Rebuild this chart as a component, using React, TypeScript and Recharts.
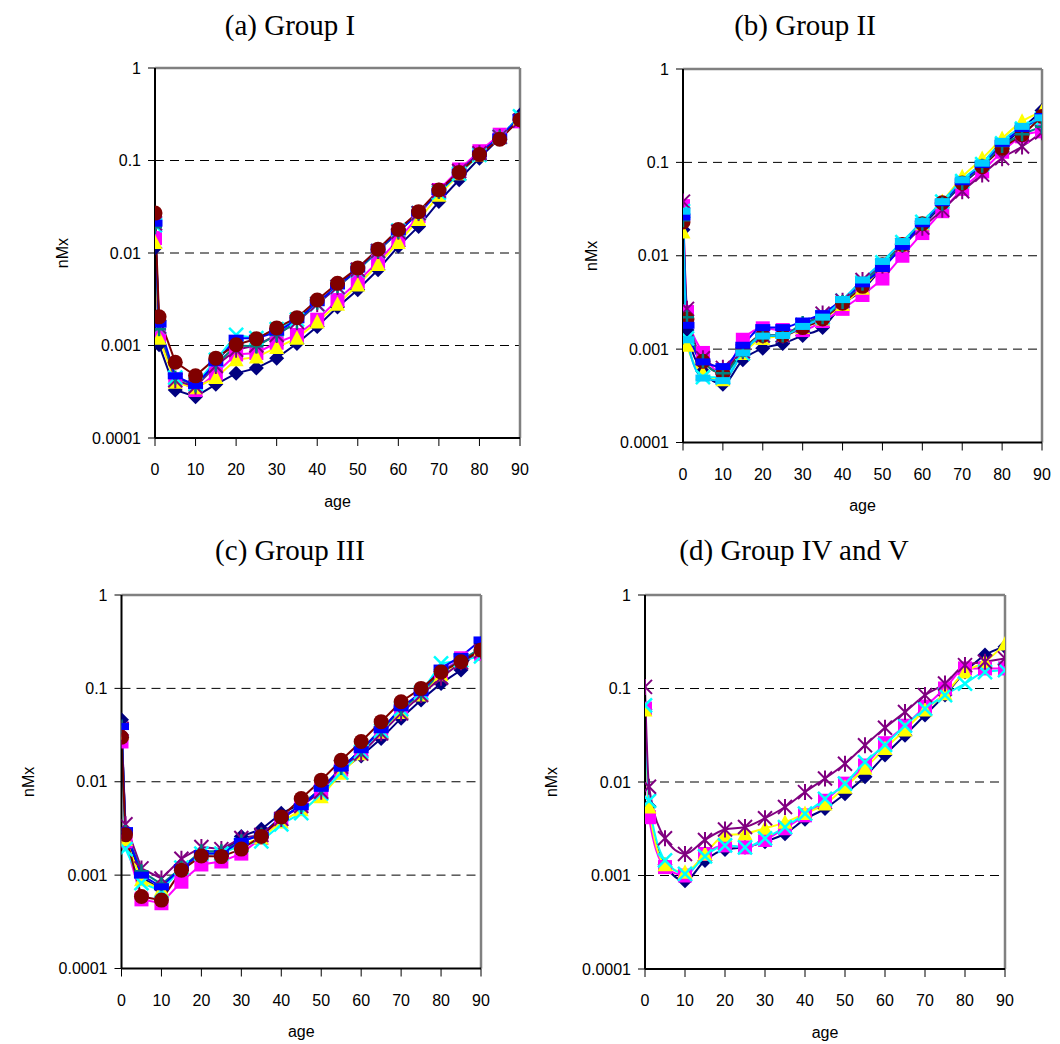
import React from 'react';
import { LineChart, Line, XAxis, YAxis, ReferenceLine } from 'recharts';

const ages = [0, 1, 5, 10, 15, 20, 25, 30, 35, 40, 45, 50, 55, 60, 65, 70, 75, 80, 85, 90];
const ageTicks = [0, 10, 20, 30, 40, 50, 60, 70, 80, 90];
const rateTicks = [0.0001, 0.001, 0.01, 0.1, 1];
const gridValues = [0.1, 0.01, 0.001];

// (a) Group I
const aNavy = [0.0113, 0.00102, 0.00033, 0.00028, 0.00038, 0.0005, 0.00057, 0.00073, 0.00105, 0.0016, 0.0026, 0.004, 0.0066, 0.0118, 0.0194, 0.036, 0.062, 0.106, 0.175, 0.31];
const aMagenta = [0.0145, 0.0013, 0.00043, 0.00033, 0.0005, 0.0008, 0.00083, 0.00107, 0.0013, 0.0019, 0.0031, 0.0049, 0.0081, 0.0139, 0.025, 0.048, 0.08, 0.126, 0.19, 0.265];
const aYellow = [0.013, 0.0012, 0.0004, 0.00035, 0.00045, 0.0007, 0.00075, 0.00095, 0.0012, 0.0018, 0.0028, 0.0045, 0.0075, 0.013, 0.023, 0.042, 0.072, 0.115, 0.18, 0.28];
const aCyan = [0.02, 0.0016, 0.00045, 0.00038, 0.0007, 0.0013, 0.0012, 0.0015, 0.0019, 0.0028, 0.0043, 0.0065, 0.0105, 0.0175, 0.027, 0.045, 0.072, 0.115, 0.18, 0.3];
const aPurple = [0.021, 0.0016, 0.00042, 0.00036, 0.0006, 0.0009, 0.001, 0.0013, 0.0018, 0.0028, 0.0043, 0.0066, 0.0105, 0.017, 0.027, 0.047, 0.077, 0.12, 0.18, 0.27];
const aTeal = [0.019, 0.0015, 0.00045, 0.00037, 0.00062, 0.001, 0.00098, 0.0013, 0.0018, 0.0029, 0.0044, 0.0066, 0.0105, 0.017, 0.027, 0.046, 0.074, 0.118, 0.178, 0.28];
const aBlue = [0.021, 0.0017, 0.00047, 0.00037, 0.00065, 0.0012, 0.0012, 0.0014, 0.0019, 0.0029, 0.0044, 0.0067, 0.011, 0.017, 0.027, 0.046, 0.075, 0.118, 0.18, 0.29];
const aMaroon = [0.027, 0.00204, 0.00066, 0.00047, 0.00073, 0.00102, 0.00118, 0.00155, 0.002, 0.0031, 0.0047, 0.0069, 0.011, 0.018, 0.028, 0.048, 0.074, 0.116, 0.17, 0.276];

// (b) Group II
const bNavy = [0.019, 0.0016, 0.00058, 0.00042, 0.00077, 0.00102, 0.00115, 0.0014, 0.0017, 0.003, 0.0043, 0.0075, 0.0125, 0.021, 0.035, 0.058, 0.09, 0.15, 0.23, 0.36];
const bMagenta = [0.034, 0.0025, 0.00091, 0.00055, 0.00126, 0.00167, 0.0016, 0.0016, 0.002, 0.0027, 0.0038, 0.0057, 0.01, 0.0175, 0.03, 0.052, 0.08, 0.13, 0.19, 0.215];
const bYellow = [0.018, 0.0011, 0.00055, 0.00047, 0.0009, 0.0013, 0.0014, 0.0017, 0.0021, 0.003, 0.0045, 0.0078, 0.013, 0.022, 0.038, 0.07, 0.11, 0.18, 0.275, 0.35];
const bCyan = [0.03, 0.0013, 0.0005, 0.0005, 0.0009, 0.0014, 0.0014, 0.0018, 0.0022, 0.0033, 0.0052, 0.0085, 0.014, 0.023, 0.038, 0.063, 0.096, 0.16, 0.23, 0.29];
const bPurple = [0.038, 0.0027, 0.0008, 0.00063, 0.00095, 0.0014, 0.0014, 0.0018, 0.0024, 0.0033, 0.0055, 0.0078, 0.013, 0.02, 0.031, 0.049, 0.074, 0.111, 0.148, 0.21];
const bMaroon = [0.023, 0.0021, 0.00074, 0.00055, 0.00099, 0.0014, 0.0014, 0.0017, 0.0021, 0.0031, 0.0047, 0.008, 0.0132, 0.022, 0.037, 0.06, 0.09, 0.142, 0.198, 0.31];
const bTeal = [0.024, 0.0022, 0.00075, 0.00055, 0.00095, 0.0014, 0.0014, 0.0019, 0.0022, 0.0032, 0.005, 0.008, 0.013, 0.022, 0.036, 0.06, 0.092, 0.15, 0.2, 0.24];
const bBlue = [0.026, 0.0018, 0.00073, 0.00065, 0.0011, 0.0017, 0.0017, 0.002, 0.0024, 0.0034, 0.005, 0.0073, 0.0126, 0.022, 0.037, 0.062, 0.095, 0.16, 0.23, 0.31];
const bSky = [0.03, 0.00126, 0.00049, 0.00046, 0.00091, 0.00138, 0.0014, 0.00175, 0.0022, 0.0034, 0.0055, 0.0087, 0.0142, 0.0234, 0.038, 0.065, 0.098, 0.168, 0.243, 0.3];

// (c) Group III
const cNavy = [0.046, 0.0028, 0.00095, 0.0007, 0.0012, 0.0017, 0.0017, 0.0026, 0.0031, 0.0046, 0.0058, 0.0082, 0.0133, 0.0189, 0.029, 0.048, 0.075, 0.113, 0.157, 0.3];
const cMagenta = [0.027, 0.0023, 0.00055, 0.0005, 0.00085, 0.0013, 0.0014, 0.0017, 0.0025, 0.004, 0.0057, 0.0082, 0.0135, 0.021, 0.034, 0.058, 0.09, 0.15, 0.21, 0.235];
const cYellow = [0.033, 0.0024, 0.00089, 0.0007, 0.0012, 0.0017, 0.0017, 0.0021, 0.0025, 0.0037, 0.005, 0.0069, 0.0123, 0.02, 0.034, 0.055, 0.085, 0.14, 0.2, 0.26];
const cCyan = [0.035, 0.0019, 0.00082, 0.00068, 0.0012, 0.0017, 0.0017, 0.0021, 0.0023, 0.0035, 0.0046, 0.0075, 0.0125, 0.021, 0.035, 0.06, 0.09, 0.185, 0.2, 0.22];
const cPurple = [0.037, 0.0035, 0.00118, 0.00092, 0.0015, 0.002, 0.0019, 0.0025, 0.0027, 0.004, 0.0055, 0.0078, 0.0145, 0.02, 0.033, 0.054, 0.085, 0.13, 0.19, 0.25];
const cTeal = [0.039, 0.0029, 0.0011, 0.0008, 0.0012, 0.0018, 0.0018, 0.0023, 0.0027, 0.0041, 0.0056, 0.0085, 0.014, 0.022, 0.036, 0.06, 0.088, 0.15, 0.2, 0.27];
const cBlue = [0.039, 0.003, 0.001, 0.00075, 0.0012, 0.0017, 0.0017, 0.0023, 0.0027, 0.0042, 0.0054, 0.0085, 0.014, 0.022, 0.036, 0.062, 0.09, 0.165, 0.22, 0.33];
const cMaroon = [0.03, 0.0027, 0.00059, 0.00054, 0.00113, 0.0016, 0.00158, 0.0019, 0.0026, 0.0042, 0.0066, 0.0104, 0.017, 0.027, 0.044, 0.072, 0.1, 0.15, 0.193, 0.257];

// (d) Group IV and V
const dNavy = [0.06, 0.0055, 0.0013, 0.00088, 0.00145, 0.0019, 0.002, 0.0023, 0.0028, 0.004, 0.0052, 0.0075, 0.0114, 0.0194, 0.0316, 0.052, 0.085, 0.15, 0.228, 0.28];
const dMagenta = [0.061, 0.0042, 0.00123, 0.001, 0.0017, 0.0021, 0.002, 0.0024, 0.0032, 0.0044, 0.0063, 0.0096, 0.015, 0.026, 0.04, 0.064, 0.1, 0.164, 0.164, 0.164];
const dYellow = [0.059, 0.0054, 0.0013, 0.00108, 0.0017, 0.0027, 0.0028, 0.0032, 0.0037, 0.0046, 0.0058, 0.0088, 0.014, 0.0228, 0.036, 0.059, 0.088, 0.15, 0.193, 0.3];
const dCyan = [0.066, 0.0063, 0.00145, 0.00104, 0.0016, 0.0021, 0.002, 0.0025, 0.0033, 0.0046, 0.0066, 0.0096, 0.0163, 0.025, 0.04, 0.061, 0.085, 0.113, 0.15, 0.157];
const dPurple = [0.104, 0.0089, 0.0025, 0.0017, 0.0024, 0.0031, 0.0033, 0.0041, 0.0054, 0.0078, 0.0109, 0.0157, 0.0247, 0.038, 0.056, 0.085, 0.113, 0.178, 0.193, 0.21];

type Shape = 'diamond' | 'square' | 'triangle' | 'x' | 'star' | 'circle' | 'plus' | 'bar';
interface SeriesDef { key: string; color: string; shape: Shape; values: number[] }

const NAVY = '#000080', MAGENTA = '#FF00FF', YELLOW = '#FFFF00', CYAN = '#00FFFF';
const PURPLE = '#800080', MAROON = '#800000', TEAL = '#008080', BLUE = '#0000FF', SKY = '#00CCFF';

const seriesA: SeriesDef[] = [
  { key: 's1', color: NAVY, shape: 'diamond', values: aNavy },
  { key: 's2', color: MAGENTA, shape: 'square', values: aMagenta },
  { key: 's3', color: YELLOW, shape: 'triangle', values: aYellow },
  { key: 's4', color: CYAN, shape: 'x', values: aCyan },
  { key: 's5', color: PURPLE, shape: 'star', values: aPurple },
  { key: 's7', color: TEAL, shape: 'plus', values: aTeal },
  { key: 's8', color: BLUE, shape: 'bar', values: aBlue },
  { key: 's6', color: MAROON, shape: 'circle', values: aMaroon },
];
const seriesB: SeriesDef[] = [
  { key: 's1', color: NAVY, shape: 'diamond', values: bNavy },
  { key: 's2', color: MAGENTA, shape: 'square', values: bMagenta },
  { key: 's3', color: YELLOW, shape: 'triangle', values: bYellow },
  { key: 's4', color: CYAN, shape: 'x', values: bCyan },
  { key: 's5', color: PURPLE, shape: 'star', values: bPurple },
  { key: 's6', color: MAROON, shape: 'circle', values: bMaroon },
  { key: 's7', color: TEAL, shape: 'plus', values: bTeal },
  { key: 's8', color: BLUE, shape: 'bar', values: bBlue },
  { key: 's9', color: SKY, shape: 'bar', values: bSky },
];
const seriesC: SeriesDef[] = [
  { key: 's1', color: NAVY, shape: 'diamond', values: cNavy },
  { key: 's2', color: MAGENTA, shape: 'square', values: cMagenta },
  { key: 's3', color: YELLOW, shape: 'triangle', values: cYellow },
  { key: 's4', color: CYAN, shape: 'x', values: cCyan },
  { key: 's5', color: PURPLE, shape: 'star', values: cPurple },
  { key: 's7', color: TEAL, shape: 'plus', values: cTeal },
  { key: 's8', color: BLUE, shape: 'bar', values: cBlue },
  { key: 's6', color: MAROON, shape: 'circle', values: cMaroon },
];
const seriesD: SeriesDef[] = [
  { key: 's1', color: NAVY, shape: 'diamond', values: dNavy },
  { key: 's2', color: MAGENTA, shape: 'square', values: dMagenta },
  { key: 's3', color: YELLOW, shape: 'triangle', values: dYellow },
  { key: 's4', color: CYAN, shape: 'x', values: dCyan },
  { key: 's5', color: PURPLE, shape: 'star', values: dPurple },
];

const buildRows = (series: SeriesDef[]) =>
  ages.map((age, i) => {
    const row: Record<string, number> = { age };
    series.forEach((s) => { row[s.key] = s.values[i]; });
    return row;
  });

const makeDot = (shape: Shape, color: string) => (p: any) => {
  const { cx, cy, index } = p;
  if (cx == null || cy == null) return <g key={index} />;
  switch (shape) {
    case 'diamond':
      return <polygon key={index} points={`${cx},${cy - 7.5} ${cx + 7.5},${cy} ${cx},${cy + 7.5} ${cx - 7.5},${cy}`} fill={color} />;
    case 'square':
      return <rect key={index} x={cx - 7} y={cy - 7} width={14} height={14} fill={color} />;
    case 'triangle':
      return <polygon key={index} points={`${cx},${cy - 8} ${cx + 7.5},${cy + 6.5} ${cx - 7.5},${cy + 6.5}`} fill={color} />;
    case 'x':
      return (
        <g key={index} stroke={color} strokeWidth={2.5}>
          <line x1={cx - 7} y1={cy - 7} x2={cx + 7} y2={cy + 7} />
          <line x1={cx - 7} y1={cy + 7} x2={cx + 7} y2={cy - 7} />
        </g>
      );
    case 'star':
      return (
        <g key={index} stroke={color} strokeWidth={2}>
          <line x1={cx - 7} y1={cy - 7} x2={cx + 7} y2={cy + 7} />
          <line x1={cx - 7} y1={cy + 7} x2={cx + 7} y2={cy - 7} />
          <line x1={cx} y1={cy - 8} x2={cx} y2={cy + 8} />
        </g>
      );
    case 'circle':
      return <circle key={index} cx={cx} cy={cy} r={7.5} fill={color} />;
    case 'plus':
      return (
        <g key={index} stroke={color} strokeWidth={2.5}>
          <line x1={cx - 7} y1={cy} x2={cx + 7} y2={cy} />
          <line x1={cx} y1={cy - 7} x2={cx} y2={cy + 7} />
        </g>
      );
    default:
      return <rect key={index} x={cx - 7.5} y={cy - 3.5} width={15} height={7} fill={color} />;
  }
};

const FONT = "'Liberation Sans', Arial, sans-serif";

// both axis titles, drawn in chart coordinates
const AxisTitles = ({ yx, yy, ax, ay }: any) => (
  <g fontFamily={FONT} fontSize={16} fill="#000" textAnchor="middle">
    <text x={yx} y={yy} dominantBaseline="central" transform={`rotate(-90 ${yx} ${yy})`}>nMx</text>
    <text x={ax} y={ay} dominantBaseline="central">age</text>
  </g>
);

const XH = 70;

interface PanelProps {
  title: string;
  titleX: number;
  titleY: number;
  box: [number, number, number, number]; // x, y, w, h on the page
  plot: [number, number, number, number]; // left, right, top, bottom on the page
  series: SeriesDef[];
  curve: 'linear' | 'monotone';
  yLabelX: number;
}

const Panel = ({ title, titleX, titleY, box, plot, series, curve, yLabelX }: PanelProps) => {
  const [bx, by, bw, bh] = box;
  const [pl, pr, pt, pb] = plot;
  const yWidth = pl - bx;
  const margin = { top: pt - by, right: bx + bw - pr, left: 0, bottom: by + bh - pb - XH };
  const rows = buildRows(series);
  const midY = (pt + pb) / 2 - by;
  const midX = (pl + pr) / 2 - bx;
  return (
    <>
      <div
        style={{
          position: 'absolute', left: titleX - 200, top: titleY - 18, width: 400, textAlign: 'center',
          fontFamily: "'Liberation Serif', 'Times New Roman', serif", fontSize: 29, lineHeight: '36px',
        }}
      >
        {title}
      </div>
      <div style={{ position: 'absolute', left: bx, top: by }}>
        <LineChart width={bw} height={bh} data={rows} margin={margin}>
          <XAxis
            dataKey="age"
            type="number"
            domain={[0, 90]}
            ticks={ageTicks}
            allowDataOverflow
            height={XH}
            tickSize={8}
            tickMargin={18}
            stroke="#000"
            axisLine={{ stroke: '#000', strokeWidth: 2 }}
            tick={{ fill: '#000', fontSize: 16, fontFamily: FONT }}
          />
          <YAxis
            type="number"
            scale="log"
            domain={[0.0001, 1]}
            ticks={rateTicks}
            allowDataOverflow
            width={yWidth}
            tickSize={7}
            tickMargin={7}
            tickFormatter={(v: number) => String(v)}
            stroke="#000"
            axisLine={{ stroke: '#000', strokeWidth: 2 }}
            tick={{ fill: '#000', fontSize: 16, fontFamily: FONT }}
            label={<AxisTitles yx={yLabelX - bx} yy={midY} ax={midX} ay={pb - by + 63} />}
          />
          {gridValues.map((g) => (
            <ReferenceLine key={g} y={g} stroke="#000" strokeDasharray="9 6" strokeWidth={1} />
          ))}
          <ReferenceLine y={1} stroke="#808080" strokeWidth={2.5} />
          <ReferenceLine x={90} stroke="#808080" strokeWidth={2.5} />
          {series.map((s) => (
            <Line
              key={s.key}
              dataKey={s.key}
              type={curve}
              stroke={s.color}
              strokeWidth={2}
              dot={makeDot(s.shape, s.color)}
              activeDot={false}
              isAnimationActive={false}
            />
          ))}
        </LineChart>
      </div>
    </>
  );
};

export default function App() {
  return (
    <div style={{ position: 'absolute', left: 0, top: 0, width: 1060, height: 1044, background: '#fff' }}>
      <Panel
        title="(a) Group I" titleX={290} titleY={25}
        box={[0, 0, 540, 520]} plot={[155, 520, 68, 438]}
        series={seriesA} curve="linear" yLabelX={62}
      />
      <Panel
        title="(b) Group II" titleX={805} titleY={25}
        box={[540, 0, 520, 520]} plot={[683, 1042, 69, 442.5]}
        series={seriesB} curve="monotone" yLabelX={591}
      />
      <Panel
        title="(c) Group III" titleX={290} titleY={550}
        box={[0, 520, 540, 524]} plot={[121.5, 481, 595, 968.5]}
        series={seriesC} curve="linear" yLabelX={28}
      />
      <Panel
        title="(d) Group IV and V" titleX={794} titleY={550}
        box={[540, 520, 520, 524]} plot={[645, 1005, 595, 969]}
        series={seriesD} curve="monotone" yLabelX={551}
      />
    </div>
  );
}
